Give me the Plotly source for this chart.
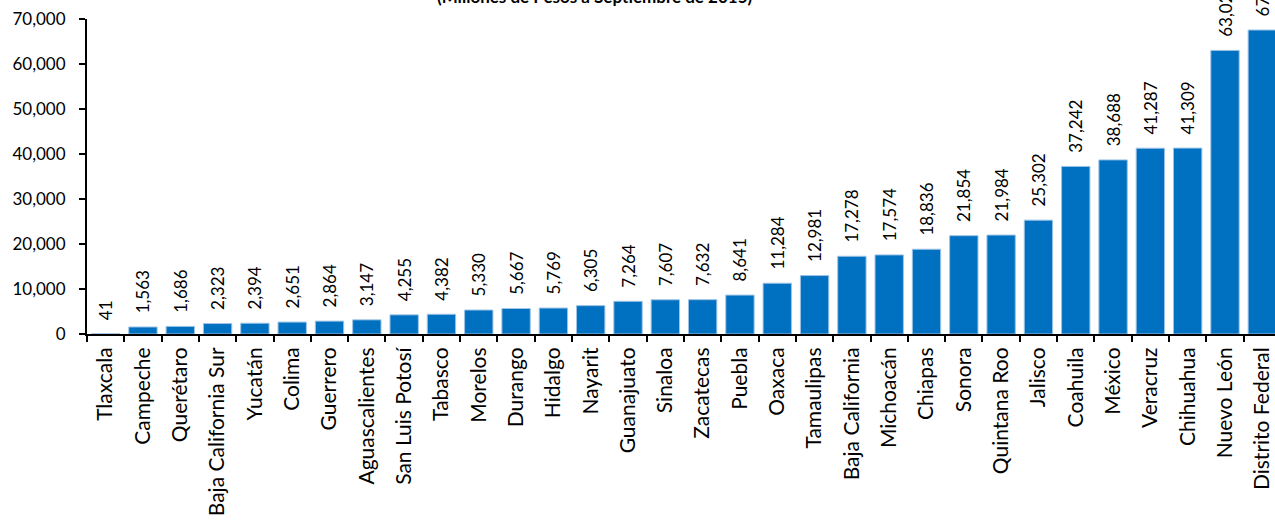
import plotly.graph_objects as go

estados = ["Tlaxcala", "Campeche", "Querétaro", "Baja California Sur", "Yucatán", "Colima",
           "Guerrero", "Aguascalientes", "San Luis Potosí", "Tabasco", "Morelos", "Durango",
           "Hidalgo", "Nayarit", "Guanajuato", "Sinaloa", "Zacatecas", "Puebla", "Oaxaca",
           "Tamaulipas", "Baja California", "Michoacán", "Chiapas", "Sonora", "Quintana Roo",
           "Jalisco", "Coahuila", "México", "Veracruz", "Chihuahua", "Nuevo León", "Distrito Federal"]
deuda = [41, 1563, 1686, 2323, 2394, 2651, 2864, 3147, 4255, 4382, 5330, 5667, 5769, 6305,
         7264, 7607, 7632, 8641, 11284, 12981, 17278, 17574, 18836, 21854, 21984, 25302,
         37242, 38688, 41287, 41309, 63024, 67553]
titulo = "(Millones de Pesos a Septiembre de 2015)"
y_ticks = [0, 10000, 20000, 30000, 40000, 50000, 60000, 70000]

FONT = "Lato"

fig = go.Figure(go.Bar(
    x=estados, y=deuda,
    marker=dict(color="#0070C0", line=dict(color="#9DC3E6", width=1)),
    text=["\u2002\u2009" + f"{v:,}" for v in deuda],
    textposition="outside", textangle=-90, cliponaxis=False,
    constraintext="none",
    textfont=dict(family=FONT, size=17, color="#000000"),
    width=0.76,
))

fig.update_layout(
    width=1275, height=521,
    margin=dict(l=87, r=0, t=19, b=187, autoexpand=False),
    plot_bgcolor="white", paper_bgcolor="white",
    showlegend=False,
    font=dict(family=FONT, size=17, color="#000000"),
)
fig.update_xaxes(
    range=[-0.5, 31.34], tickangle=-90, tickson="boundaries",
    ticks="outside", ticklen=6, tickcolor="black", tickwidth=1.5,
    showline=True, linecolor="black", linewidth=2, automargin=False,
    ticklabelstandoff=3, ticklabeloverflow="allow",
    tickfont=dict(family=FONT, size=21), showgrid=False,
)
fig.update_yaxes(
    range=[0, 70000], tickvals=y_ticks, tickformat=",",
    ticks="outside", ticklen=6, tickcolor="black", tickwidth=1.5,
    showline=True, linecolor="black", linewidth=2, automargin=False,
    ticklabelstandoff=10, ticklabeloverflow="allow",
    tickfont=dict(family=FONT, size=17), showgrid=False, zeroline=False,
)
fig.add_annotation(
    text=f"<b>{titulo}</b>", xref="paper", yref="paper", x=0.4276, y=1,
    xanchor="center", yanchor="bottom", yshift=10, showarrow=False,
    font=dict(family=FONT, size=17, color="#000000"),
)
fig.write_html(
    "out.html",
    config={"displayModeBar": False},
    post_script="document.body.style.margin='0';document.body.style.overflow='hidden';",
)
